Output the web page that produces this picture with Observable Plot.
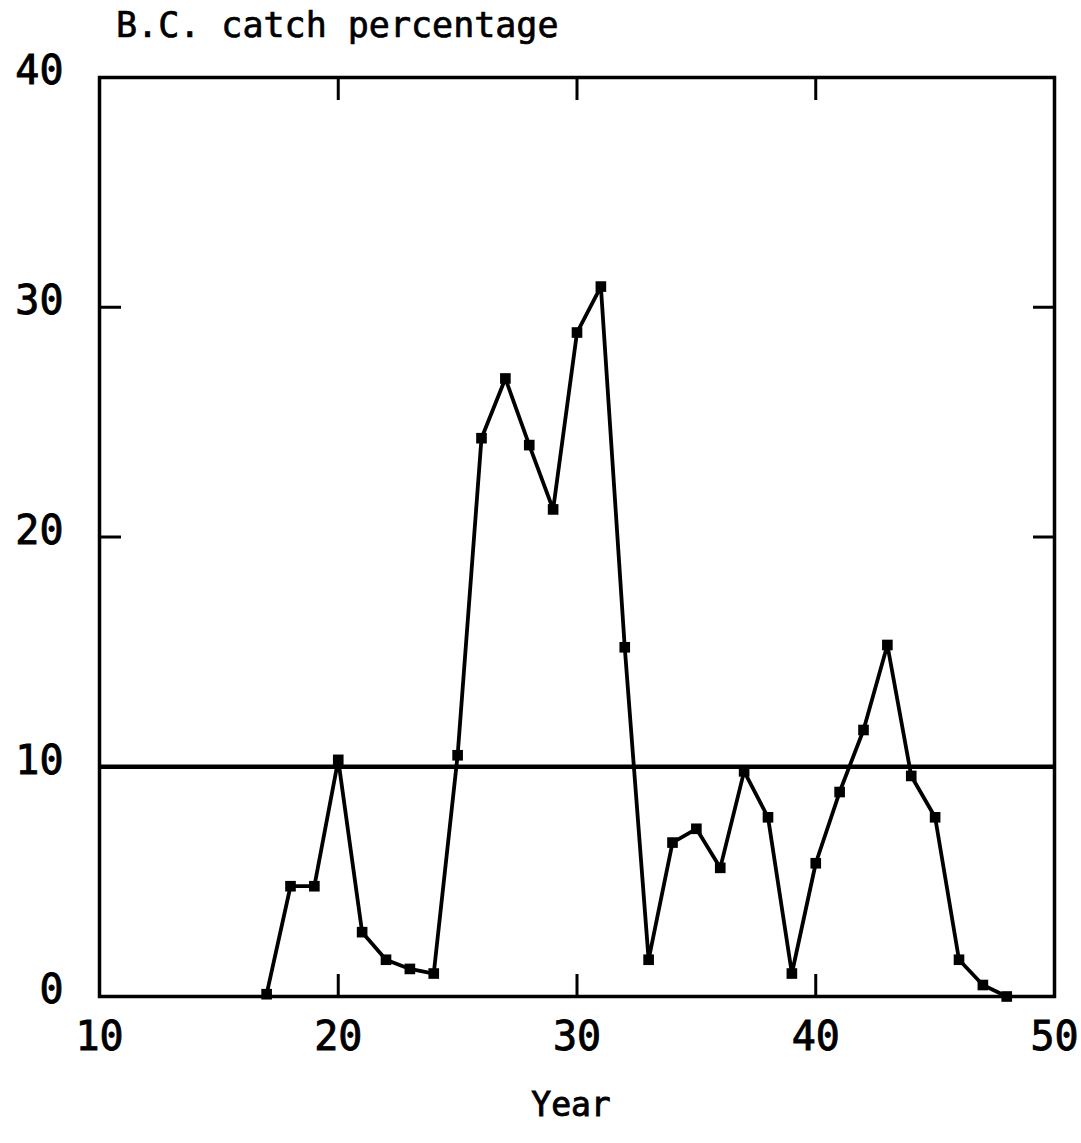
<!DOCTYPE html>
<html>
<head>
<meta charset="utf-8">
<script src="https://cdn.jsdelivr.net/npm/d3@7"></script>
<script src="https://cdn.jsdelivr.net/npm/@observablehq/plot@0.6"></script>
<style>
  html, body { margin: 0; padding: 0; background: #fff; }
  #wrap { position: relative; width: 1081px; height: 1143px; }
  #title { position: absolute; left: 116px; top: 0; font-family: "DejaVu Sans Mono", monospace; font-size: 35px; line-height: 50px; color: #000; white-space: nowrap; -webkit-text-stroke: 0.7px #000; z-index: 1; }
  #chart svg { display: block; }
  #chart svg text { stroke: #000; stroke-width: 0.9px; }
</style>
</head>
<body>
<div id="wrap">
<div id="title">B.C. catch percentage</div>
<div id="chart"></div>
</div>
<script>
const years = [17, 18, 19, 20, 21, 22, 23, 24, 25, 26, 27, 28, 29, 30, 31, 32,
               33, 34, 35, 36, 37, 38, 39, 40, 41, 42, 43, 44, 45, 46, 47, 48];
const catchPct = [0.1, 4.8, 4.8, 10.3, 2.8, 1.6, 1.2, 1.0, 10.5, 24.3, 26.9, 24.0, 21.2, 28.9, 30.9, 15.2,
                  1.6, 6.7, 7.3, 5.6, 9.8, 7.8, 1.0, 5.8, 8.9, 11.6, 15.3, 9.6, 7.8, 1.6, 0.5, 0.0];
const referenceLevel = [10];
const xTicks = [10, 20, 30, 40, 50];
const yTicks = [0, 10, 20, 30, 40];
const xLabel = "Year";

const data = years.map((yr, i) => ({year: yr, pct: catchPct[i]}));
const font = "DejaVu Sans Mono, monospace";

const chart = Plot.plot({
  width: 1081,
  height: 1143,
  marginLeft: 99,
  marginRight: 27,
  marginTop: 77,
  marginBottom: 147,
  style: {fontFamily: font, background: "transparent", color: "#000"},
  x: {domain: [10, 50]},
  y: {domain: [0, 40]},
  marks: [
    Plot.axisX(xTicks, {anchor: "bottom", tickSize: 0, tickPadding: 25, fontSize: 40, label: null}),
    Plot.axisY(yTicks, {anchor: "left", tickSize: 0, tickPadding: 36, fontSize: 40, dy: -6, label: null}),
    Plot.axisX([20, 30, 40], {anchor: "bottom", tickSize: -22, tickPadding: 0, tickFormat: () => "", strokeWidth: 3, label: null}),
    Plot.axisX([20, 30, 40], {anchor: "top", tickSize: -22, tickPadding: 0, tickFormat: () => "", strokeWidth: 3, label: null}),
    Plot.axisY([10, 20, 30], {anchor: "left", tickSize: -22, tickPadding: 0, tickFormat: () => "", strokeWidth: 3, label: null}),
    Plot.axisY([10, 20, 30], {anchor: "right", tickSize: -22, tickPadding: 0, tickFormat: () => "", strokeWidth: 3, label: null}),
    Plot.frame({stroke: "#000", strokeWidth: 3.5}),
    Plot.ruleY(referenceLevel, {stroke: "#000", strokeWidth: 4.5}),
    Plot.line(data, {x: "year", y: "pct", stroke: "#000", strokeWidth: 3.8}),
    Plot.dot(data, {x: "year", y: "pct", symbol: "square", r: 6, fill: "#000", stroke: "none"}),
    Plot.text([xLabel], {frameAnchor: "bottom", dx: -6, dy: 119, fontSize: 33, fill: "#000"})
  ]
});
document.getElementById("chart").appendChild(chart);
</script>
</body>
</html>
